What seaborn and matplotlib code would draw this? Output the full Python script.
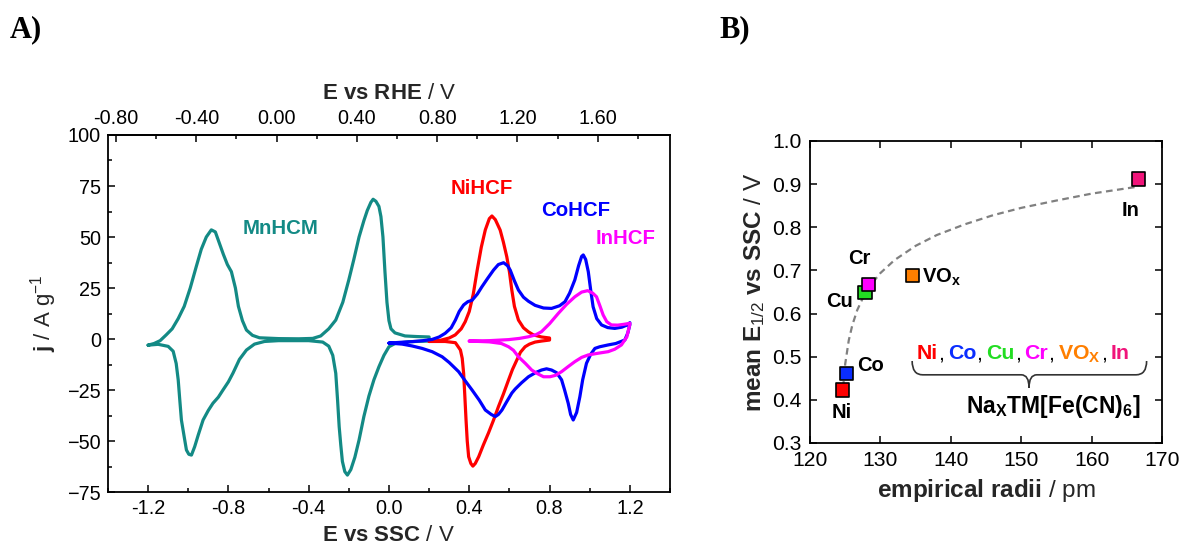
import numpy as np
import matplotlib
matplotlib.use("Agg")
import matplotlib.pyplot as plt
from matplotlib.path import Path as MPath
from matplotlib.patches import PathPatch
from matplotlib.ticker import MultipleLocator, FormatStrFormatter
import seaborn as sns

# ---- Panel A: cyclic voltammograms (E vs SSC / V, j / A g-1) ----
mn_x = [-1.20, -1.17, -1.14, -1.11, -1.08, -1.05, -1.02, -0.99, -0.96, -0.935, -0.91, -0.885,
        -0.865, -0.845, -0.825, -0.805, -0.785, -0.765, -0.75, -0.73, -0.71, -0.68, -0.645,
        -0.55, -0.45, -0.38, -0.34, -0.30, -0.265, -0.23, -0.20, -0.175, -0.149, -0.125,
        -0.108, -0.09, -0.079, -0.065, -0.05, -0.04, -0.03, -0.02, -0.01, 0.0, 0.01, 0.03,
        0.08, 0.14, 0.20,
        0.20, 0.10, 0.03, 0.0, -0.025, -0.05, -0.075, -0.10, -0.125, -0.149, -0.17, -0.19,
        -0.207, -0.22, -0.232, -0.24, -0.248, -0.256, -0.265, -0.28, -0.30, -0.33, -0.40,
        -0.55, -0.62, -0.67, -0.71, -0.745, -0.777, -0.80, -0.827, -0.85, -0.877, -0.90,
        -0.926, -0.95, -0.968, -0.984, -0.997, -1.009, -1.02, -1.034, -1.042, -1.05, -1.06,
        -1.075, -1.10, -1.15, -1.20]
mn_j = [-3.0, -2.2, -0.8, 2.0, 5.0, 10.0, 16.0, 25.0, 35.5, 44.0, 50.0, 53.5,
        52.5, 47.0, 41.5, 36.5, 33.0, 25.0, 16.0, 9.0, 4.4, 1.8, 0.6,
        0.2, 0.1, 0.3, 1.5, 5.0, 9.3, 18.0, 29.0, 39.0, 50.0, 58.0,
        63.0, 67.0, 68.5, 67.5, 65.0, 60.0, 50.0, 33.0, 18.0, 9.0, 5.0, 3.0,
        1.5, 1.2, 1.0,
        -1.0, -1.3, -2.2, -3.8, -8.0, -13.6, -20.0, -28.0, -38.0, -49.5, -58.0, -64.0,
        -66.7, -65.0, -60.0, -52.0, -43.0, -30.0, -16.8, -8.0, -3.5, -1.5, -0.8,
        -0.8, -1.2, -2.5, -5.4, -10.0, -16.7, -21.0, -25.0, -28.5, -31.5, -35.0,
        -39.7, -47.0, -52.8, -56.9, -56.5, -54.4, -48.0, -39.7, -30.0, -20.0, -12.0,
        -6.0, -3.6, -2.6, -3.0]

ni_x = [0.20, 0.25, 0.30, 0.33, 0.36, 0.38, 0.40, 0.42, 0.44, 0.46, 0.48, 0.50, 0.513,
        0.53, 0.554, 0.57, 0.587, 0.60, 0.612, 0.625, 0.645, 0.67, 0.695, 0.72, 0.76, 0.80,
        0.80, 0.76, 0.728, 0.70, 0.678, 0.655, 0.637, 0.615, 0.596, 0.57, 0.546, 0.52, 0.496,
        0.47, 0.447, 0.43, 0.418, 0.408, 0.397, 0.39, 0.384, 0.378, 0.372, 0.365, 0.356,
        0.331, 0.28, 0.20]
ni_j = [-1.2, -0.8, 0.5, 2.0, 5.0, 8.5, 13.5, 22.0, 34.0, 45.0, 53.5, 59.0, 60.3,
        58.5, 53.4, 47.5, 40.3, 33.0, 24.0, 16.0, 9.3, 5.5, 3.5, 2.0, 1.0, 0.5,
        -0.5, -1.0, -1.5, -2.5, -3.8, -6.5, -10.3, -15.0, -20.0, -27.0, -33.0, -40.0, -46.0,
        -52.0, -57.7, -61.0, -62.3, -61.0, -57.7, -50.0, -39.7, -28.0, -16.8, -9.5, -5.4,
        -1.8, -1.2, -1.2]

co_x = [0.0, 0.06, 0.115, 0.17, 0.215, 0.25, 0.28, 0.31, 0.331, 0.35, 0.372, 0.393, 0.414,
        0.44, 0.463, 0.49, 0.521, 0.545, 0.571, 0.59, 0.604, 0.625, 0.645, 0.67, 0.695,
        0.728, 0.77, 0.81, 0.85, 0.877, 0.90, 0.926, 0.945, 0.96, 0.968, 0.98, 0.993, 1.005,
        1.017, 1.035, 1.059, 1.09, 1.125, 1.16, 1.19, 1.20,
        1.20, 1.19, 1.175, 1.13, 1.092, 1.05, 1.026, 1.005, 0.984, 0.965, 0.951, 0.935,
        0.918, 0.905, 0.893, 0.875, 0.86, 0.835, 0.81, 0.785, 0.76, 0.73, 0.695, 0.66,
        0.629, 0.612, 0.585, 0.563, 0.545, 0.53, 0.51, 0.48, 0.45, 0.414, 0.38, 0.347,
        0.30, 0.265, 0.215, 0.165, 0.115, 0.066, 0.0]
co_j = [-2.0, -1.6, -1.3, -0.8, -0.2, 1.0, 2.8, 5.5, 9.3, 13.5, 16.7, 18.3, 19.0,
        22.0, 25.6, 29.5, 33.8, 36.5, 37.4, 36.0, 33.8, 28.5, 24.0, 20.5, 18.5,
        16.5, 15.2, 15.0, 16.3, 18.3, 22.5, 29.0, 36.0, 40.5, 41.2, 39.0, 33.0, 24.0,
        15.8, 10.0, 6.9, 5.6, 5.2, 5.8, 7.0, 8.0,
        7.0, 3.0, -0.5, -2.2, -2.9, -3.8, -4.6, -7.5, -11.9, -20.0, -28.3, -36.0,
        -39.7, -37.0, -31.5, -25.0, -20.0, -16.5, -15.2, -14.6, -15.2, -16.5, -18.5, -21.5,
        -24.5, -26.5, -31.0, -34.8, -37.0, -38.0, -37.0, -34.8, -30.0, -25.0, -20.5, -16.0,
        -11.5, -8.7, -6.2, -4.6, -3.4, -2.5, -2.0]

in_x = [0.40, 0.50, 0.596, 0.65, 0.695, 0.73, 0.76, 0.80, 0.844, 0.885, 0.926, 0.96, 0.99,
        1.015, 1.034, 1.05, 1.067, 1.085, 1.108, 1.14, 1.17, 1.20,
        1.20, 1.185, 1.158, 1.125, 1.092, 1.04, 0.993, 0.96, 0.926, 0.893, 0.86, 0.83,
        0.802, 0.77, 0.74, 0.711, 0.68, 0.645, 0.62, 0.596, 0.56, 0.50, 0.40]
in_j = [-1.0, -0.8, -0.3, 0.3, 1.1, 2.0, 3.6, 7.5, 12.6, 17.0, 20.7, 23.0, 23.7,
        22.5, 20.7, 16.5, 11.8, 8.5, 6.9, 6.8, 7.2, 7.7,
        7.2, 1.0, -2.9, -5.0, -6.2, -7.0, -7.8, -9.0, -11.1, -13.5, -16.0, -17.8,
        -18.5, -18.5, -17.0, -15.2, -12.0, -8.7, -5.5, -3.8, -2.2, -1.4, -1.0]

cv_names = ["MnHCM", "NiHCF", "CoHCF", "InHCF"]
cv_colors = ["#138a85", "#ff0000", "#0000ff", "#ff00ff"]
rhe_offset = 0.56  # E(RHE) = E(SSC) + offset

# ---- Panel B: mean E1/2 vs empirical radii ----
metals = ["Ni", "Co", "Cu", "Cr", "VOx", "In"]
radii = [124.6, 125.2, 127.8, 128.3, 134.6, 166.7]
e_half = [0.423, 0.462, 0.649, 0.668, 0.688, 0.912]
metal_colors = ["#ff0000", "#0a2dff", "#22dd22", "#ff00ff", "#ff7f00", "#f0147a"]
fit_r = [124.7, 125.0, 125.5, 126.0, 126.7, 127.5, 128.5, 130, 132, 135, 138, 142,
         146, 150, 155, 160, 166.5]
fit_e = [0.428, 0.484, 0.538, 0.573, 0.608, 0.636, 0.664, 0.694, 0.724, 0.757, 0.782,
         0.807, 0.828, 0.845, 0.862, 0.878, 0.894]

sns.set_theme(style="ticks")
plt.rcParams.update({
    "font.family": ["Liberation Sans", "DejaVu Sans"],
    "mathtext.fontset": "custom",
    "mathtext.rm": "Liberation Sans",
    "mathtext.bf": "Liberation Sans:bold",
    "mathtext.it": "Liberation Sans:italic",
    "axes.edgecolor": "black",
    "axes.linewidth": 1.3,
    "xtick.direction": "in",
    "ytick.direction": "in",
    "xtick.color": "black",
    "ytick.color": "black",
    "text.color": "black",
})

fig = plt.figure(figsize=(11.81, 5.45), dpi=100)
ax1 = fig.add_axes([0.0914, 0.0972, 0.4759, 0.6551])
ax2 = fig.add_axes([0.6859, 0.1872, 0.2981, 0.5541])

# Panel A
for xs, js, color in zip([mn_x, ni_x, co_x, in_x], [mn_j, ni_j, co_j, in_j], cv_colors):
    sns.lineplot(x=xs, y=js, sort=False, estimator=None, color=color, lw=2.3,
                 solid_joinstyle="round", ax=ax1)

ax1.set_xlim(-1.4, 1.4)
ax1.set_ylim(-75, 100)
ax1.xaxis.set_major_locator(MultipleLocator(0.4))
ax1.xaxis.set_minor_locator(MultipleLocator(0.2))
ax1.xaxis.set_major_formatter(FormatStrFormatter("%.1f"))
ax1.yaxis.set_major_locator(MultipleLocator(25))
ax1.yaxis.set_minor_locator(MultipleLocator(12.5))
ax1.tick_params(which="both", direction="in", labelsize=14.3, width=1.1, pad=5,
                top=False, right=False)
ax1.tick_params(which="major", length=5)
ax1.tick_params(which="minor", length=3)
ax1.set_xlabel(r"$\mathbf{E\ vs\ SSC}$ / V", fontsize=16, labelpad=5)
ax1.set_ylabel(r"$\mathbf{j}$ / A g$^{-1}$", fontsize=16, labelpad=6)

top = ax1.secondary_xaxis("top", functions=(lambda x: x + rhe_offset,
                                            lambda x: x - rhe_offset))
top.xaxis.set_major_locator(MultipleLocator(0.4))
top.xaxis.set_minor_locator(MultipleLocator(0.2))
top.xaxis.set_major_formatter(FormatStrFormatter("%.2f"))
top.tick_params(which="both", direction="in", labelsize=14.3, width=1.1, pad=5)
top.tick_params(which="major", length=5)
top.tick_params(which="minor", length=3)
top.set_xlabel(r"$\mathbf{E\ vs\ RHE}$ / V", fontsize=16, labelpad=7)

label_pos = [(-0.54, 54), (0.46, 74), (0.93, 63), (1.18, 49.5)]
for name, color, (lx, ly) in zip(cv_names, cv_colors, label_pos):
    ax1.text(lx, ly, name, color=color, fontsize=14.7, fontweight="bold",
             ha="center", va="center")

# Panel B
sns.lineplot(x=fit_r, y=fit_e, sort=False, estimator=None, color="#808080", lw=1.6,
             linestyle=(0, (3, 2)), ax=ax2)
sns.scatterplot(x=radii, y=e_half, hue=metals, palette=metal_colors, marker="s", s=90,
                edgecolor="black", linewidth=1.2, legend=False, zorder=3, ax=ax2)

ax2.set_xlim(120, 170)
ax2.set_ylim(0.3, 1.0)
ax2.xaxis.set_major_locator(MultipleLocator(10))
ax2.yaxis.set_major_locator(MultipleLocator(0.1))
ax2.yaxis.set_major_formatter(FormatStrFormatter("%.1f"))
ax2.tick_params(which="both", direction="in", labelsize=15.2, width=1.1, length=5,
                top=True, right=True)
ax2.tick_params(axis="y", pad=6)
ax2.tick_params(axis="x", pad=6)
ax2.set_xlabel(r"$\mathbf{empirical\ radii}$ / pm", fontsize=17.5, labelpad=5)
ax2.set_ylabel(r"$\mathbf{mean\ E}_{1/2}\ \mathbf{vs\ SSC}$ / V", fontsize=17.5, labelpad=4)

pt_labels = [("Ni", 124.5, 0.37, "center"), ("Co", 128.6, 0.48, "center"),
             ("Cu", 124.2, 0.628, "center"), ("Cr", 127.0, 0.728, "center"),
             (r"$\mathbf{VO_x}$", 135.9, 0.683, "left"), ("In", 165.5, 0.84, "center")]
for txt, lx, ly, ha in pt_labels:
    ax2.text(lx, ly, txt, fontsize=14.5, fontweight="bold", ha=ha, va="center")

# coloured list of metals above the brace
renderer = fig.canvas.get_renderer()
list_names = ["Ni", "Co", "Cu", "Cr", r"VO$_\mathbf{X}$", "In"]
to_data = ax2.transData.inverted()
cur_x = 135.2
for i, (name, color) in enumerate(zip(list_names, metal_colors)):
    t = ax2.text(cur_x, 0.494, name, color=color, fontsize=15.3, fontweight="bold",
                 va="baseline")
    bb = t.get_window_extent(renderer)
    cur_x = to_data.transform((bb.x1, bb.y0))[0]
    if i < len(list_names) - 1:
        c = ax2.text(cur_x, 0.494, ",", color="black", fontsize=15.3, va="baseline")
        bb = c.get_window_extent(renderer)
        cur_x = to_data.transform((bb.x1 + 4, bb.y0))[0]

# curly brace
x0, xm, x1 = 134.5, 151.1, 167.8
ytop, ymid, ytip = 0.490, 0.458, 0.428
verts = [(x0, ytop), (x0, ymid), (x0 + 1.5, ymid), (xm - 1.1, ymid), (xm, ymid), (xm, ytip),
         (xm, ymid), (xm + 1.1, ymid), (x1 - 1.5, ymid), (x1, ymid), (x1, ytop)]
codes = [MPath.MOVETO, MPath.CURVE3, MPath.CURVE3, MPath.LINETO, MPath.CURVE3, MPath.CURVE3,
         MPath.CURVE3, MPath.CURVE3, MPath.LINETO, MPath.CURVE3, MPath.CURVE3]
ax2.add_patch(PathPatch(MPath(verts, codes), fc="none", ec="#333333", lw=1.2))
ax2.text(154.6, 0.384, r"$\mathbf{Na_{X}TM[Fe(CN)_{6}]}$", fontsize=16.5,
         ha="center", va="center")

fig.text(0.008, 0.945, "A)", fontsize=22, fontweight="bold", family="Liberation Serif",
         va="center")
fig.text(0.609, 0.945, "B)", fontsize=22, fontweight="bold", family="Liberation Serif",
         va="center")

fig.savefig("out.png", dpi=100)
